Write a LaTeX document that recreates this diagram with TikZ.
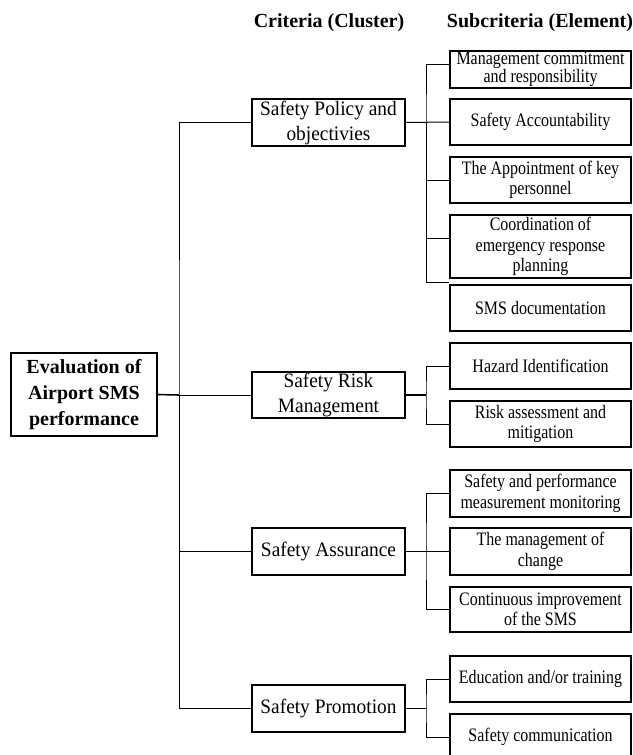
\documentclass[tikz,border=0pt]{standalone}
\usepackage{fontspec}
\setmainfont{Liberation Serif}
\newfontfamily\subfont{Liberation Serif}[FakeStretch=0.84]
\newfontfamily\clfont{Liberation Serif}[FakeStretch=0.945]
\begin{document}
\begin{tikzpicture}[x=1pt,y=-1pt,
  box/.style={draw=black,line width=1.1pt,inner sep=0pt,align=center},
  subbox/.style={box,minimum width=181pt,font={\subfont\fontsize{19}{20.5}\selectfont}},
  clbox/.style={box,minimum width=153pt,minimum height=47pt,font={\clfont\fontsize{20.5}{25}\selectfont}},
  head/.style={anchor=base,font={\bfseries\fontsize{20}{24}\selectfont}},
  conn/.style={draw=black,line width=1pt}]
\useasboundingbox (0,0) rectangle (632,755);

% headers
\node[head] (h1) at (329,27) {Criteria (Cluster)};
\node[head] (h2) at (540,27) {Subcriteria (Element)};

% root
\node[box,minimum width=146pt,minimum height=83pt,font={\bfseries\fontsize{20}{26}\selectfont}] (eval) at (84,394.5) {Evaluation of\\Airport SMS\\performance};

% clusters
\node[clbox] (sp) at (328.5,122.5) {Safety Policy and\\objectivies};
\node[clbox,minimum height=46pt] (srm) at (328.5,395) {Safety Risk\\Management};
\node[clbox] (sa) at (328.5,551.5) {Safety Assurance};
\node[clbox] (spr) at (328.5,708.5) {Safety Promotion};

% subcriteria
\node[subbox,minimum height=37pt,font={\subfont\fontsize{19}{17.5}\selectfont}] (mgmt) at (540.5,69.5) {Management commitment\\and responsibility};
\node[subbox,minimum height=46pt] (acc) at (540.5,122) {Safety Accountability};
\node[subbox,minimum height=46pt] (appt) at (540.5,180) {The Appointment of key\\personnel};
\node[subbox,minimum height=63pt] (coord) at (540.5,246.5) {Coordination of\\emergency response\\planning};
\node[subbox,minimum height=46pt] (smsdoc) at (540.5,308) {SMS documentation};
\node[subbox,minimum height=46pt] (hazard) at (540.5,366) {Hazard Identification};
\node[subbox,minimum height=46pt] (risk) at (540.5,424) {Risk assessment and\\mitigation};
\node[subbox,minimum height=47pt] (sperf) at (540.5,493.5) {Safety and performance\\measurement monitoring};
\node[subbox,minimum height=47pt] (change) at (540.5,551.5) {The management of\\change};
\node[subbox,minimum height=45pt] (cont) at (540.5,609.5) {Continuous improvement\\of the SMS};
\node[subbox,minimum height=46pt] (edu) at (540.5,679) {Education and/or training};
\node[subbox,minimum height=46pt] (comm) at (540.5,737) {Safety communication};

% branch points
\coordinate (trunk) at (179,395);
\coordinate (b1) at (426,123);
\coordinate (b2) at (426,395);
\coordinate (b3) at (426,551.5);
\coordinate (b4) at (426,708.5);

% root to clusters
\draw[conn,line width=1.6pt] (eval.east) -- (trunk);
\draw[conn] (trunk) -- (srm.west);
\draw[conn] (sp.west) -| (trunk) |- (spr.west);
\draw[conn] (sa.west) -| (trunk);

% Safety Policy branch
\draw[conn] ([yshift=5.5pt]mgmt.west) -| (b1) |- ([yshift=2pt]smsdoc.north west);
\draw[conn] (sp.east) -- (acc.west);
\draw[conn] (appt.west) -| (b1);
\draw[conn] ([yshift=8.5pt]coord.west) -| (b1);

% Safety Risk branch
\draw[conn] (hazard.west) -| (b2) |- (risk.west);
\draw[conn,line width=1.4pt] (srm.east) -- (b2);

% Safety Assurance branch
\draw[conn] (sperf.west) -| (b3) |- (cont.west);
\draw[conn] (sa.east) -- (change.west);

% Safety Promotion branch
\draw[conn] (edu.west) -| (b4) |- (comm.west);
\draw[conn,line width=1.4pt] (spr.east) -- (b4);
\end{tikzpicture}
\end{document}
